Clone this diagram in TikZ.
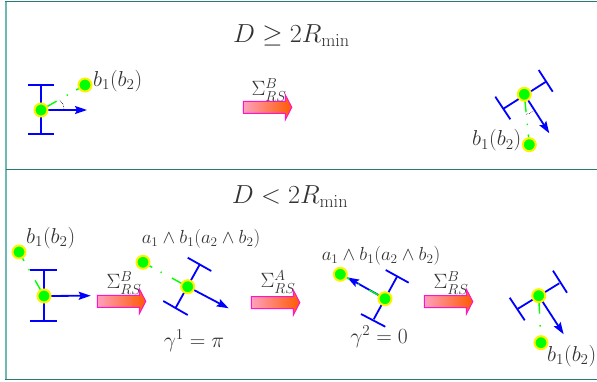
\RequirePackage{fix-cm}
\documentclass[tikz,border=0pt]{standalone}
\usepackage{amssymb}
\usetikzlibrary{arrows.meta,calc}
\definecolor{frame}{RGB}{40,125,115}
\definecolor{frameL}{RGB}{110,185,180}
\definecolor{pinkL}{RGB}{255,160,190}
\definecolor{orangeR}{RGB}{255,90,0}
\definecolor{pinkline}{RGB}{255,20,200}
\definecolor{ink}{gray}{0.2}
\tikzset{
  bar/.style={draw=blue,line width=1.8pt},
  head/.style={draw=blue,line width=1.8pt,-{Stealth[length=12pt,width=8pt,inset=2pt]}},
  sight/.style={draw=green,line width=1.4pt,dash pattern=on 18pt off 11.5pt on 1.4pt off 9.5pt on 20pt},
  dotnode/.style={circle,fill=green,draw=yellow,line width=2pt,minimum size=13pt,inner sep=0pt},
  txt/.style={text=ink,inner sep=0pt,font=\fontsize{21.6}{25}\selectfont},
  big/.style={text=ink,inner sep=0pt,font=\fontsize{26.1}{30}\selectfont},
  sig/.style={text=ink,inner sep=0pt,font=\fontsize{20.7}{25}\selectfont},
  small/.style={text=ink,inner sep=0pt,font=\fontsize{18.9}{22}\selectfont},
  angarc/.style={draw=black,line width=.6pt,densely dotted},
}
\newcommand{\pinkarrow}[3]{% x-left, y-mid, name
  \path[draw=pinkline,line width=1pt,left color=pinkL,right color=orangeR]
    (#1,#2-6)--(#1+42,#2-6)--(#1+42,#2-12.5)--(#1+48.5,#2)--(#1+42,#2+12.5)--(#1+42,#2+6)--(#1,#2+6)--cycle;
  \coordinate (#3) at (#1+24,#2);
}
\begin{document}
\begin{tikzpicture}[x=1pt,y=-1pt]
\useasboundingbox (0,0) rectangle (597,381);
\fill[white] (0,0) rectangle (597,381);
% frame
\draw[frameL,line width=1.8pt] (6,1)--(6,379.5);
\draw[frame,line width=1.2pt] (5,1.5)--(597,1.5);
\draw[frame,line width=1pt] (6,169)--(597,169);
\draw[frame,line width=1.2pt] (5,379.5)--(597,379.5);
\node[big] (t1) at (291.5,36) {$D\geq 2R_{\min}$};
\node[big] (t2) at (290,197) {$D<2R_{\min}$};
% robot 1
\coordinate (r1) at (41,110); \coordinate (a1) at (87,110);
\draw[bar] (28,85)--(54,85); \draw[bar] (28,134)--(54,134); \draw[bar] (41,85)--(41,134);
\draw[head] (r1)--(a1);
\draw[angarc] (64,110) .. controls (64,105) and (62,102) .. (59.5,100);
\node[dotnode] (g1) at (85,85) {};
\draw[sight] (r1)--(g1);
\node[dotnode] (c1) at (r1) {};
\node[txt,anchor=west] (l1) at (93,81) {$b_1(b_2)$};
% arrow 1
\pinkarrow{243.3}{107.3}{p1}
\node[sig] (s1) at (269,90) {$\Sigma_{RS}^{B}$};
% robot 2
\coordinate (r2) at (524.3,94.3); \coordinate (a2) at (549.3,133.3);
\draw[bar] (538.7,70)--(552.7,91.7); \draw[bar] (495.3,96.7)--(510.3,119.3);
\draw[bar] (546,81.7)--(503,109);
\draw[head] (r2)--(a2);
\node[dotnode] (g2) at (529.3,144.7) {};
\draw[sight] (r2)--(g2);
\draw[angarc] (526,114.3) .. controls (529,114) and (531,113) .. (533.3,111);
\node[dotnode] (c2) at (r2) {};
\node[txt,anchor=east] (l2) at (521.5,140.5) {$b_1(b_2)$};
% robot 3
\coordinate (r3) at (44,296); \coordinate (a3) at (90.7,295.7);
\node[dotnode] (g3) at (19,252) {};
\draw[sight] (r3)--(g3);
\draw[bar] (30,270.3)--(57.3,270.3); \draw[bar] (30,320.7)--(57.3,320.7); \draw[bar] (44,270.3)--(44,320.7);
\draw[head] (r3)--(a3);
\node[dotnode] (c3) at (r3) {};
\node[txt,anchor=west] (l3) at (26,238) {$b_1(b_2)$};
\pinkarrow{97.3}{301.3}{p2}
\node[sig] (s2) at (124,283) {$\Sigma_{RS}^{B}$};
% robot 4
\coordinate (r4) at (187.7,286.7); \coordinate (a4) at (228.7,308.3);
\draw[bar] (187.7,257.7)--(211.3,271); \draw[bar] (163.3,301)--(187.7,315);
\draw[bar] (200,264)--(175.7,307.7);
\draw[head] (r4)--(a4);
\node[dotnode] (g4) at (143,262.3) {};
\draw[sight] (r4)--(g4);
\node[dotnode] (c4) at (r4) {};
\node[small] (l4) at (201,239) {$a_1\wedge b_1(a_2\wedge b_2)$};
\node[txt] (l4b) at (194,341) {$\gamma^1=\pi$};
\pinkarrow{251.3}{302.6}{p3}
\node[sig] (s3) at (278,282) {$\Sigma_{RS}^{A}$};
% robot 5
\coordinate (r5) at (385,298.7); \coordinate (a5) at (347,277.3);
\draw[bar] (385.7,270)--(408.7,282.7); \draw[bar] (361,314)--(385.3,326.7);
\draw[bar] (397,276.7)--(373.7,319.3);
\draw[head] (r5)--(a5);
\node[dotnode] (g5) at (340.3,274.3) {};
\draw[sight] (r5)--(g5);
\node[dotnode] (c5) at (r5) {};
\node[small] (l5) at (381,256) {$a_1\wedge b_1(a_2\wedge b_2)$};
\node[txt] (l5b) at (379,337) {$\gamma^2=0$};
\pinkarrow{424.3}{301.6}{p4}
\node[sig] (s4) at (451,283) {$\Sigma_{RS}^{B}$};
% robot 6
\coordinate (r6) at (538.7,295.7); \coordinate (a6) at (563.7,334.3);
\draw[bar] (553,270.7)--(567,292.7); \draw[bar] (509.7,297.7)--(524.7,320.3);
\draw[bar] (559.3,283.3)--(517,309.3);
\draw[head] (r6)--(a6);
\node[dotnode] (g6) at (541,342.7) {};
\draw[sight] (r6)--(g6);
\node[dotnode] (c6) at (r6) {};
\node[txt,anchor=west] (l6) at (547,356) {$b_1(b_2)$};
\end{tikzpicture}
\end{document}
